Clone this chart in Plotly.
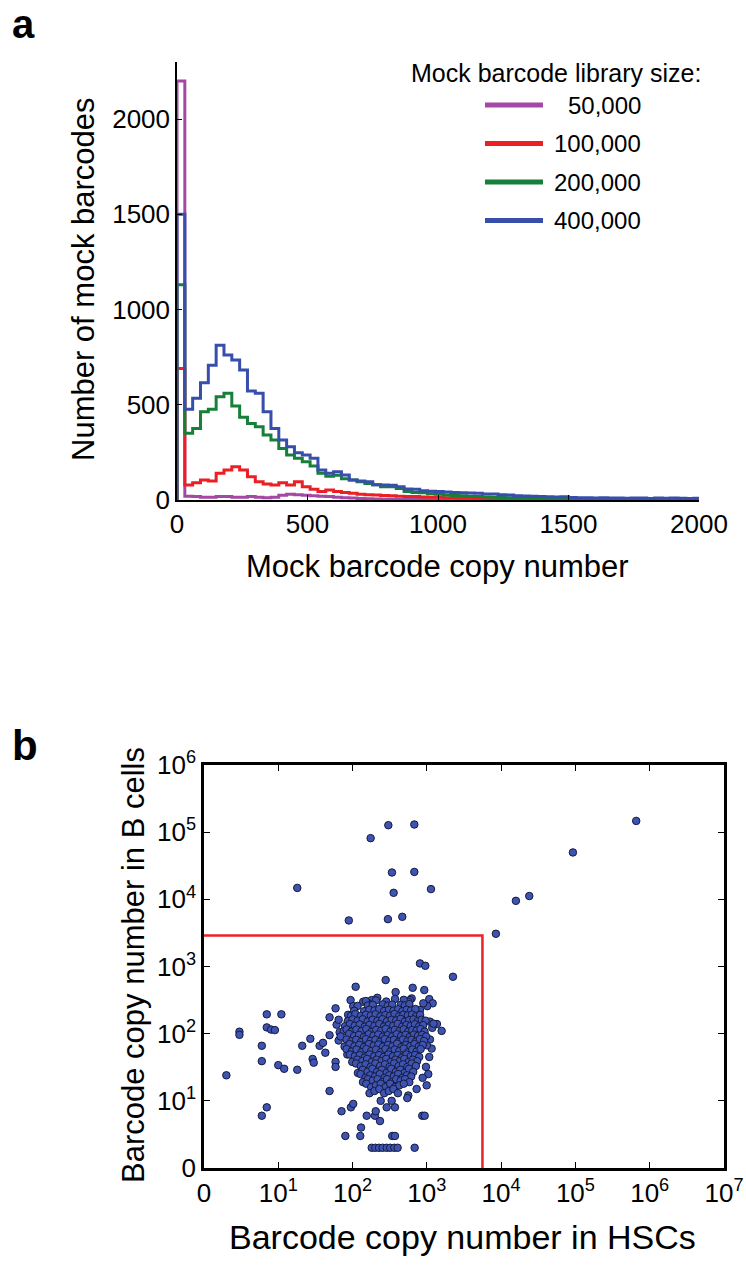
import numpy as np
import plotly.graph_objects as go

W, H = 746, 1271

# ---------------- Panel a: histogram data (bin width 30 copies) ----------------
bin_width = 30
library_labels = ["50,000", "100,000", "200,000", "400,000"]
library_colors = ["rgb(165,72,165)", "rgb(236,32,36)", "rgb(22,128,58)", "rgb(55,78,170)"]

counts_50k = [2200, 20, 18, 15, 15, 18, 18, 15, 15, 18,
              15, 12, 15, 25, 30, 28, 25, 22, 20, 18,
              15, 12, 10, 8, 6, 5, 4, 4, 3, 3,
              2, 2, 2, 2, 1, 1, 1, 1, 1, 1,
              1, 0, 0, 0, 0, 0, 0, 0, 0, 0,
              0, 0, 0, 0, 0, 0, 0, 0, 0, 0,
              0, 0, 0, 0, 0, 0, 0]
counts_100k = [690, 79, 91, 105, 100, 140, 157, 175, 157, 122,
               96, 84, 79, 91, 79, 96, 70, 56, 44, 52,
               44, 40, 35, 30, 28, 26, 24, 22, 20, 18,
               18, 16, 15, 14, 12, 12, 10, 10, 9, 8,
               8, 7, 6, 5, 5, 4, 4, 3, 3, 3,
               2, 2, 2, 2, 2, 1, 1, 1, 1, 1,
               1, 1, 1, 1, 1, 1, 1]
counts_200k = [1130, 350, 376, 463, 476, 542, 560, 493, 434, 402,
               385, 341, 315, 271, 236, 219, 201, 178, 140, 125,
               130, 112, 105, 96, 87, 80, 70, 70, 60, 44,
               40, 38, 33, 30, 26, 24, 22, 20, 18, 16,
               15, 13, 12, 11, 10, 9, 8, 8, 7, 7,
               6, 6, 5, 5, 5, 4, 4, 4, 3, 3,
               3, 3, 2, 2, 2, 2, 2]
counts_400k = [1500, 476, 534, 616, 708, 813, 761, 735, 682, 573,
               560, 463, 376, 315, 280, 248, 236, 219, 157, 140,
               149, 131, 105, 100, 96, 80, 79, 78, 70, 58,
               56, 48, 46, 44, 42, 40, 38, 37, 35, 32,
               31, 27, 26, 22, 21, 20, 18, 17, 16, 17,
               13, 12, 12, 11, 12, 10, 11, 9, 10, 10,
               8, 10, 9, 10, 9, 8, 9]

hist_xticks = [0, 500, 1000, 1500, 2000]
hist_yticks = [0, 500, 1000, 1500, 2000]

# ---------------- Panel b: barcode copy numbers (HSC, B cell) ----------------
upper_points = [(17, 14800), (174, 81400), (302, 127000), (677, 130000), (338, 25100),
                (677, 25600), (356, 12500), (1135, 14200), (88, 4850), (298, 5070),
                (466, 5490), (8500, 3070), (15800, 9500), (23900, 11200), (92500, 49900),
                (658000, 147000)]
left_points = [(1, 23), (2, 106), (2, 95), (5, 65), (5, 38), (6, 193), (6, 123), (7, 114),
               (8, 112), (10, 193), (9, 33), (11, 29), (5, 5), (6, 7), (17, 28), (20, 65),
               (26, 83), (28, 41), (29, 36), (35, 65), (39, 72), (42, 51), (48, 94), (48, 174),
               (48, 13), (58, 37), (58, 31), (58, 237)]
low_points = [(70, 6), (79, 2), (126, 2), (94, 7), (101, 8), (129, 3), (154, 5), (199, 5),
              (204, 6), (233, 4), (180, 1), (201, 1), (226, 1), (253, 1), (287, 1), (320, 1),
              (363, 1), (403, 1), (684, 1), (341, 2), (371, 2), (287, 7), (371, 7), (238, 9),
              (335, 9), (866, 5), (933, 5), (561, 11), (544, 10), (727, 14)]
edge_points = [(807, 1111), (952, 1023), (2245, 702), (278, 627), (379, 415), (643, 481),
               (922, 445), (109, 498), (93, 315), (101, 256), (1366, 138), (1580, 109),
               (1100, 150), (1182, 121), (1100, 81), (1158, 59), (1076, 44), (972, 31),
               (1044, 24), (876, 21), (993, 16), (1076, 326), (1196, 282), (1011, 256),
               (895, 282), (807, 224), (623, 334), (591, 315), (561, 298), (214, 341),
               (180, 315), (159, 287), (138, 298), (64, 78), (60, 135), (1230, 140),
               (1000, 66), (84, 48), (66, 104)]
core_points = [
    (150, 305), (205, 312), (283, 300), (372, 328), (488, 318),
    (116, 258), (160, 262), (186, 268), (255, 272), (296, 260), (340, 270), (446, 268), (505, 262), (580, 275),
    (104, 218), (142, 215), (167, 226), (196, 220), (228, 232), (265, 216), (308, 225), (355, 219), (410, 230), (468, 215), (535, 226), (610, 220), (700, 232),
    (86, 190), (94, 183), (108, 195), (128, 182), (150, 190), (175, 185), (203, 193), (236, 180), (275, 188), (318, 184), (366, 195), (420, 180), (482, 190), (552, 186), (630, 192), (715, 181), (810, 190),
    (64, 160), (85, 152), (99, 162), (116, 155), (136, 163), (158, 150), (185, 160), (215, 154), (250, 163), (290, 152), (335, 160), (385, 156), (442, 165), (505, 150), (578, 158), (660, 162), (750, 152), (850, 160), (960, 155),
    (78, 128), (91, 138), (106, 130), (124, 136), (145, 126), (168, 134), (196, 129), (228, 138), (264, 127), (305, 133), (352, 130), (405, 139), (465, 126), (530, 134), (605, 129), (690, 137), (785, 127), (890, 133),
    (75, 108), (82, 115), (96, 106), (112, 114), (131, 108), (152, 116), (178, 105), (207, 113), (240, 109), (278, 117), (322, 106), (370, 113), (425, 108), (487, 115), (558, 106), (636, 112), (724, 110), (820, 116), (930, 106),
    (68, 90), (89, 98), (104, 91), (121, 95), (141, 88), (164, 97), (190, 92), (221, 96), (256, 89), (296, 94), (342, 90), (392, 97), (450, 91), (515, 95), (588, 88), (670, 96), (760, 92), (862, 95), (975, 90),
    (82, 81), (95, 76), (111, 80), (129, 74), (150, 82), (174, 77), (202, 80), (234, 75), (271, 82), (313, 77), (360, 80), (414, 74), (476, 81), (545, 76), (622, 80), (710, 75), (805, 82), (915, 77),
    (77, 63), (90, 69), (105, 64), (122, 67), (142, 62), (165, 69), (192, 65), (222, 68), (257, 63), (298, 67), (344, 64), (396, 70), (455, 62), (522, 67), (598, 64), (682, 69), (776, 63), (880, 67),
    (82, 58), (96, 53), (112, 57), (131, 52), (152, 58), (177, 54), (206, 57), (239, 52), (277, 58), (320, 53), (369, 57), (424, 54), (487, 59), (557, 52), (636, 57), (725, 53), (824, 58),
    (91, 48), (106, 45), (124, 47), (144, 43), (168, 48), (195, 45), (226, 47), (262, 44), (303, 48), (350, 45), (403, 47), (462, 43), (530, 48), (606, 45), (692, 47), (788, 44),
    (98, 37), (115, 40), (134, 38), (156, 41), (181, 37), (210, 40), (244, 38), (283, 41), (327, 37), (377, 40), (433, 38), (496, 41), (568, 37), (648, 40), (738, 38),
    (110, 35), (128, 32), (149, 34), (174, 31), (202, 35), (234, 32), (272, 34), (314, 31), (362, 35), (416, 32), (477, 34), (546, 31), (624, 35), (710, 32),
    (117, 25), (136, 28), (158, 26), (184, 29), (213, 26), (247, 28), (286, 25), (331, 29), (382, 26), (438, 28), (502, 25), (574, 29), (654, 26),
    (127, 24), (148, 21), (172, 23), (199, 22), (231, 24), (268, 21), (310, 23), (357, 22), (410, 24), (470, 21), (538, 23), (614, 22),
    (137, 18), (160, 20), (186, 19), (216, 20), (251, 18), (290, 20), (335, 18), (386, 20), (443, 19), (508, 20), (580, 18),
    (152, 17), (177, 15), (205, 16), (238, 17), (276, 15), (320, 17), (370, 15), (425, 16), (488, 17),
    (168, 12), (196, 13), (228, 14), (265, 12), (306, 13), (354, 14), (407, 12),
]

gate_hsc = 5600     # vertical red gate line (HSC copy number)
gate_bcell = 2900   # horizontal red gate line (B cell copy number)

scatter_tick_labels = ["0", "10<sup>1</sup>", "10<sup>2</sup>", "10<sup>3</sup>",
                       "10<sup>4</sup>", "10<sup>5</sup>", "10<sup>6</sup>", "10<sup>7</sup>"]


def tr(v):
    """log10(1 + copies) transform used for both scatter axes."""
    return np.log10(1.0 + np.asarray(v, dtype=float))


FONT = "Liberation Sans, Arial, Helvetica, sans-serif"

fig = go.Figure()

# ---- histogram step lines ----
for label, counts, color in zip(library_labels,
                                [counts_50k, counts_100k, counts_200k, counts_400k],
                                library_colors):
    c = np.asarray(counts, dtype=float)
    edges = np.arange(len(c) + 1) * bin_width
    xs = np.concatenate([[0], edges])
    ys = np.concatenate([[0], c, [c[-1]]])
    fig.add_trace(go.Scatter(x=xs, y=ys, mode="lines", name=label,
                             line=dict(color=color, width=3, shape="hv"),
                             xaxis="x", yaxis="y", showlegend=False, hoverinfo="skip"))

# ---- scatter ----
all_points = upper_points + left_points + low_points + edge_points + core_points
hsc = [p[0] for p in all_points]
bcell = [p[1] for p in all_points]

fig.add_trace(go.Scatter(x=tr([0, gate_hsc, gate_hsc]), y=tr([gate_bcell, gate_bcell, 0]),
                         mode="lines", line=dict(color="rgb(236,32,40)", width=2.5),
                         xaxis="x2", yaxis="y2", showlegend=False, hoverinfo="skip"))
fig.add_trace(go.Scatter(x=tr(hsc), y=tr(bcell), mode="markers",
                         marker=dict(size=7.5, color="rgb(62,84,178)",
                                     line=dict(color="rgb(22,26,60)", width=1)),
                         xaxis="x2", yaxis="y2", showlegend=False))

# ---- manual legend for panel a ----
shapes = []
annotations = []
legend_y0, legend_dy = 105, 38.5
for i, (label, color) in enumerate(zip(library_labels, library_colors)):
    yp = 1 - (legend_y0 + i * legend_dy) / H
    shapes.append(dict(type="line", xref="paper", yref="paper",
                       x0=485 / W, x1=543 / W, y0=yp, y1=yp,
                       line=dict(color=color, width=5)))
    annotations.append(dict(text=label, xref="paper", yref="paper",
                            x=643 / W, y=yp, xanchor="right", yanchor="middle",
                            showarrow=False, font=dict(family=FONT, size=24, color="black")))
annotations.append(dict(text="Mock barcode library size:", xref="paper", yref="paper",
                        x=556 / W, y=1 - 73 / H, xanchor="center", yanchor="middle",
                        showarrow=False, font=dict(family=FONT, size=25, color="black")))


def ann(text, xp, yp, size, angle=0, bold=False, xanchor="center", yanchor="middle"):
    annotations.append(dict(text=("<b>%s</b>" % text) if bold else text,
                            xref="paper", yref="paper", x=xp / W, y=1 - yp / H,
                            xanchor=xanchor, yanchor=yanchor, textangle=angle,
                            showarrow=False, font=dict(family=FONT, size=size, color="black")))


ann("a", 10, 0, 40, bold=True, xanchor="left", yanchor="top")
ann("b", 10, 745, 42, bold=True, xanchor="left")
ann("Number of mock barcodes", 84, 279, 31, angle=-90)
ann("Mock barcode copy number", 438, 567, 31)
ann("Barcode copy number in HSCs", 462, 1237, 34)
ann("Barcode copy number in B cells", 133, 965, 31, angle=-90)

axis_common = dict(showgrid=False, zeroline=False, showline=True, linecolor="black",
                   ticks="inside", tickcolor="black", automargin=False,
                   tickfont=dict(family=FONT, size=26, color="black"))

fig.update_layout(
    width=W, height=H, autosize=False,
    margin=dict(l=0, r=0, t=0, b=0, pad=0, autoexpand=False),
    paper_bgcolor="white", plot_bgcolor="white",
    showlegend=False,
    shapes=shapes, annotations=annotations,
    xaxis=dict(domain=[177 / W, 699 / W], range=[0, 2000], anchor="y",
               tickvals=hist_xticks, ticklen=5, linewidth=1.5, **axis_common),
    yaxis=dict(domain=[1 - 500 / H, 1 - 62 / H], range=[0, 2300], anchor="x",
               tickvals=hist_yticks, ticklen=5, linewidth=1.5, **axis_common),
    xaxis2=dict(domain=[204 / W, 724 / W], range=[0, 7], anchor="y2",
                tickvals=list(range(8)), ticktext=scatter_tick_labels,
                ticklen=6, linewidth=2.5, mirror="ticks", **axis_common),
    yaxis2=dict(domain=[1 - 1168 / H, 1 - 765 / H], range=[0, 6], anchor="x2",
                tickvals=list(range(7)), ticktext=scatter_tick_labels[:7],
                ticklen=6, linewidth=2.5, mirror="ticks", **axis_common),
)

fig.write_html("out.html",
               config={"displayModeBar": False},
               post_script="document.body.style.margin='0';document.body.style.overflow='hidden';")
